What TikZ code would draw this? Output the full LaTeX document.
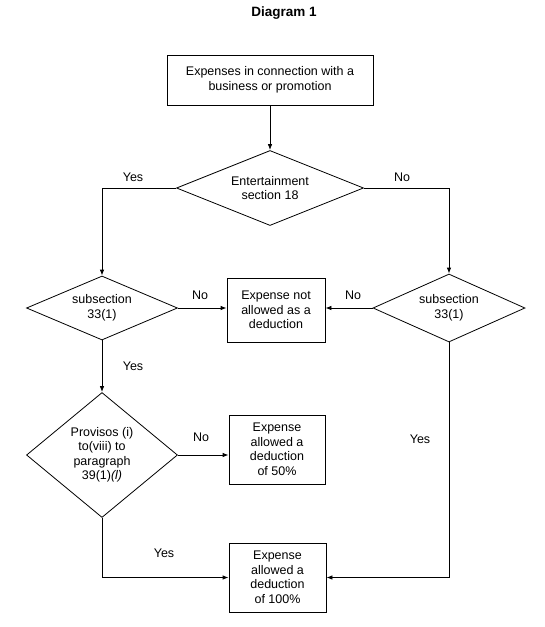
\documentclass[tikz,border=0pt]{standalone}
\usepackage{fontspec}
\setmainfont{Liberation Sans}
\usetikzlibrary{shapes.geometric,arrows.meta}
\begin{document}
\begin{tikzpicture}[x=1pt,y=-1pt,
  txt/.style={font=\fontsize{12.5}{14.5}\selectfont, align=center},
  boxnode/.style={draw, line width=0.8pt, txt, inner sep=0pt},
  dnode/.style={draw, diamond, line width=0.8pt, txt, inner sep=0pt},
  conn/.style={line width=0.8pt},
  arr/.style={conn, -{Latex[length=6pt,width=4.5pt]}},
  lbl/.style={font=\fontsize{12.5}{14.5}\selectfont}]
\useasboundingbox (0,0) rectangle (545,627);
\node[font=\bfseries\fontsize{13.5}{15}\selectfont] (title) at (284,13) {Diagram 1};
\node[boxnode, minimum width=206pt, minimum height=50pt] (top) at (270,80) {Expenses in connection with a\\business or promotion};
\node[dnode, shape aspect=2.5, minimum width=187pt, minimum height=75pt] (d1) at (270,188) {Entertainment\\section 18};
\node[dnode, shape aspect=2.3, minimum width=151pt, minimum height=64pt] (d2) at (102,308) {subsection\\33(1)};
\node[dnode, shape aspect=2.3, minimum width=152pt, minimum height=68pt] (d4) at (449,308) {subsection\\33(1)};
\node[boxnode, minimum width=98pt, minimum height=64pt] (nal) at (276,310) {Expense not\\allowed as a\\deduction};
\node[dnode, shape aspect=1.2, minimum width=151pt, minimum height=125pt] (d3) at (102,455) {Provisos (i)\\to(viii) to\\paragraph\\39(1)\textit{(l)}};
\node[boxnode, minimum width=96pt, minimum height=69pt] (b50) at (277,449.5) {Expense\\allowed a\\deduction\\of 50\%};
\node[boxnode, minimum width=97pt, minimum height=69pt] (b100) at (277.5,577.5) {Expense\\allowed a\\deduction\\of 100\%};
\draw[arr] (top.south) -- (d1.north);
\draw[arr] (d1.west) -| (d2.north);
\draw[arr] (d1.east) -| (d4.north);
\draw[arr] (d2.east) -- (d2.east -| nal.west);
\draw[arr] (d4.west) -- (d4.west -| nal.east);
\draw[arr] (d2.south) -- (d3.north);
\draw[arr] (d3.east) -- (d3.east -| b50.west);
\draw[arr] (d3.south) |- (b100.west);
\draw[arr] (d4.south) |- (b100.east);
\node[lbl] (l1) at (133,177) {Yes};
\node[lbl] (l2) at (402,177) {No};
\node[lbl] (l3) at (200,295) {No};
\node[lbl] (l4) at (353,295) {No};
\node[lbl] (l5) at (133,366) {Yes};
\node[lbl] (l6) at (201,437) {No};
\node[lbl] (l7) at (420,439) {Yes};
\node[lbl] (l8) at (164,553) {Yes};
\end{tikzpicture}
\end{document}
